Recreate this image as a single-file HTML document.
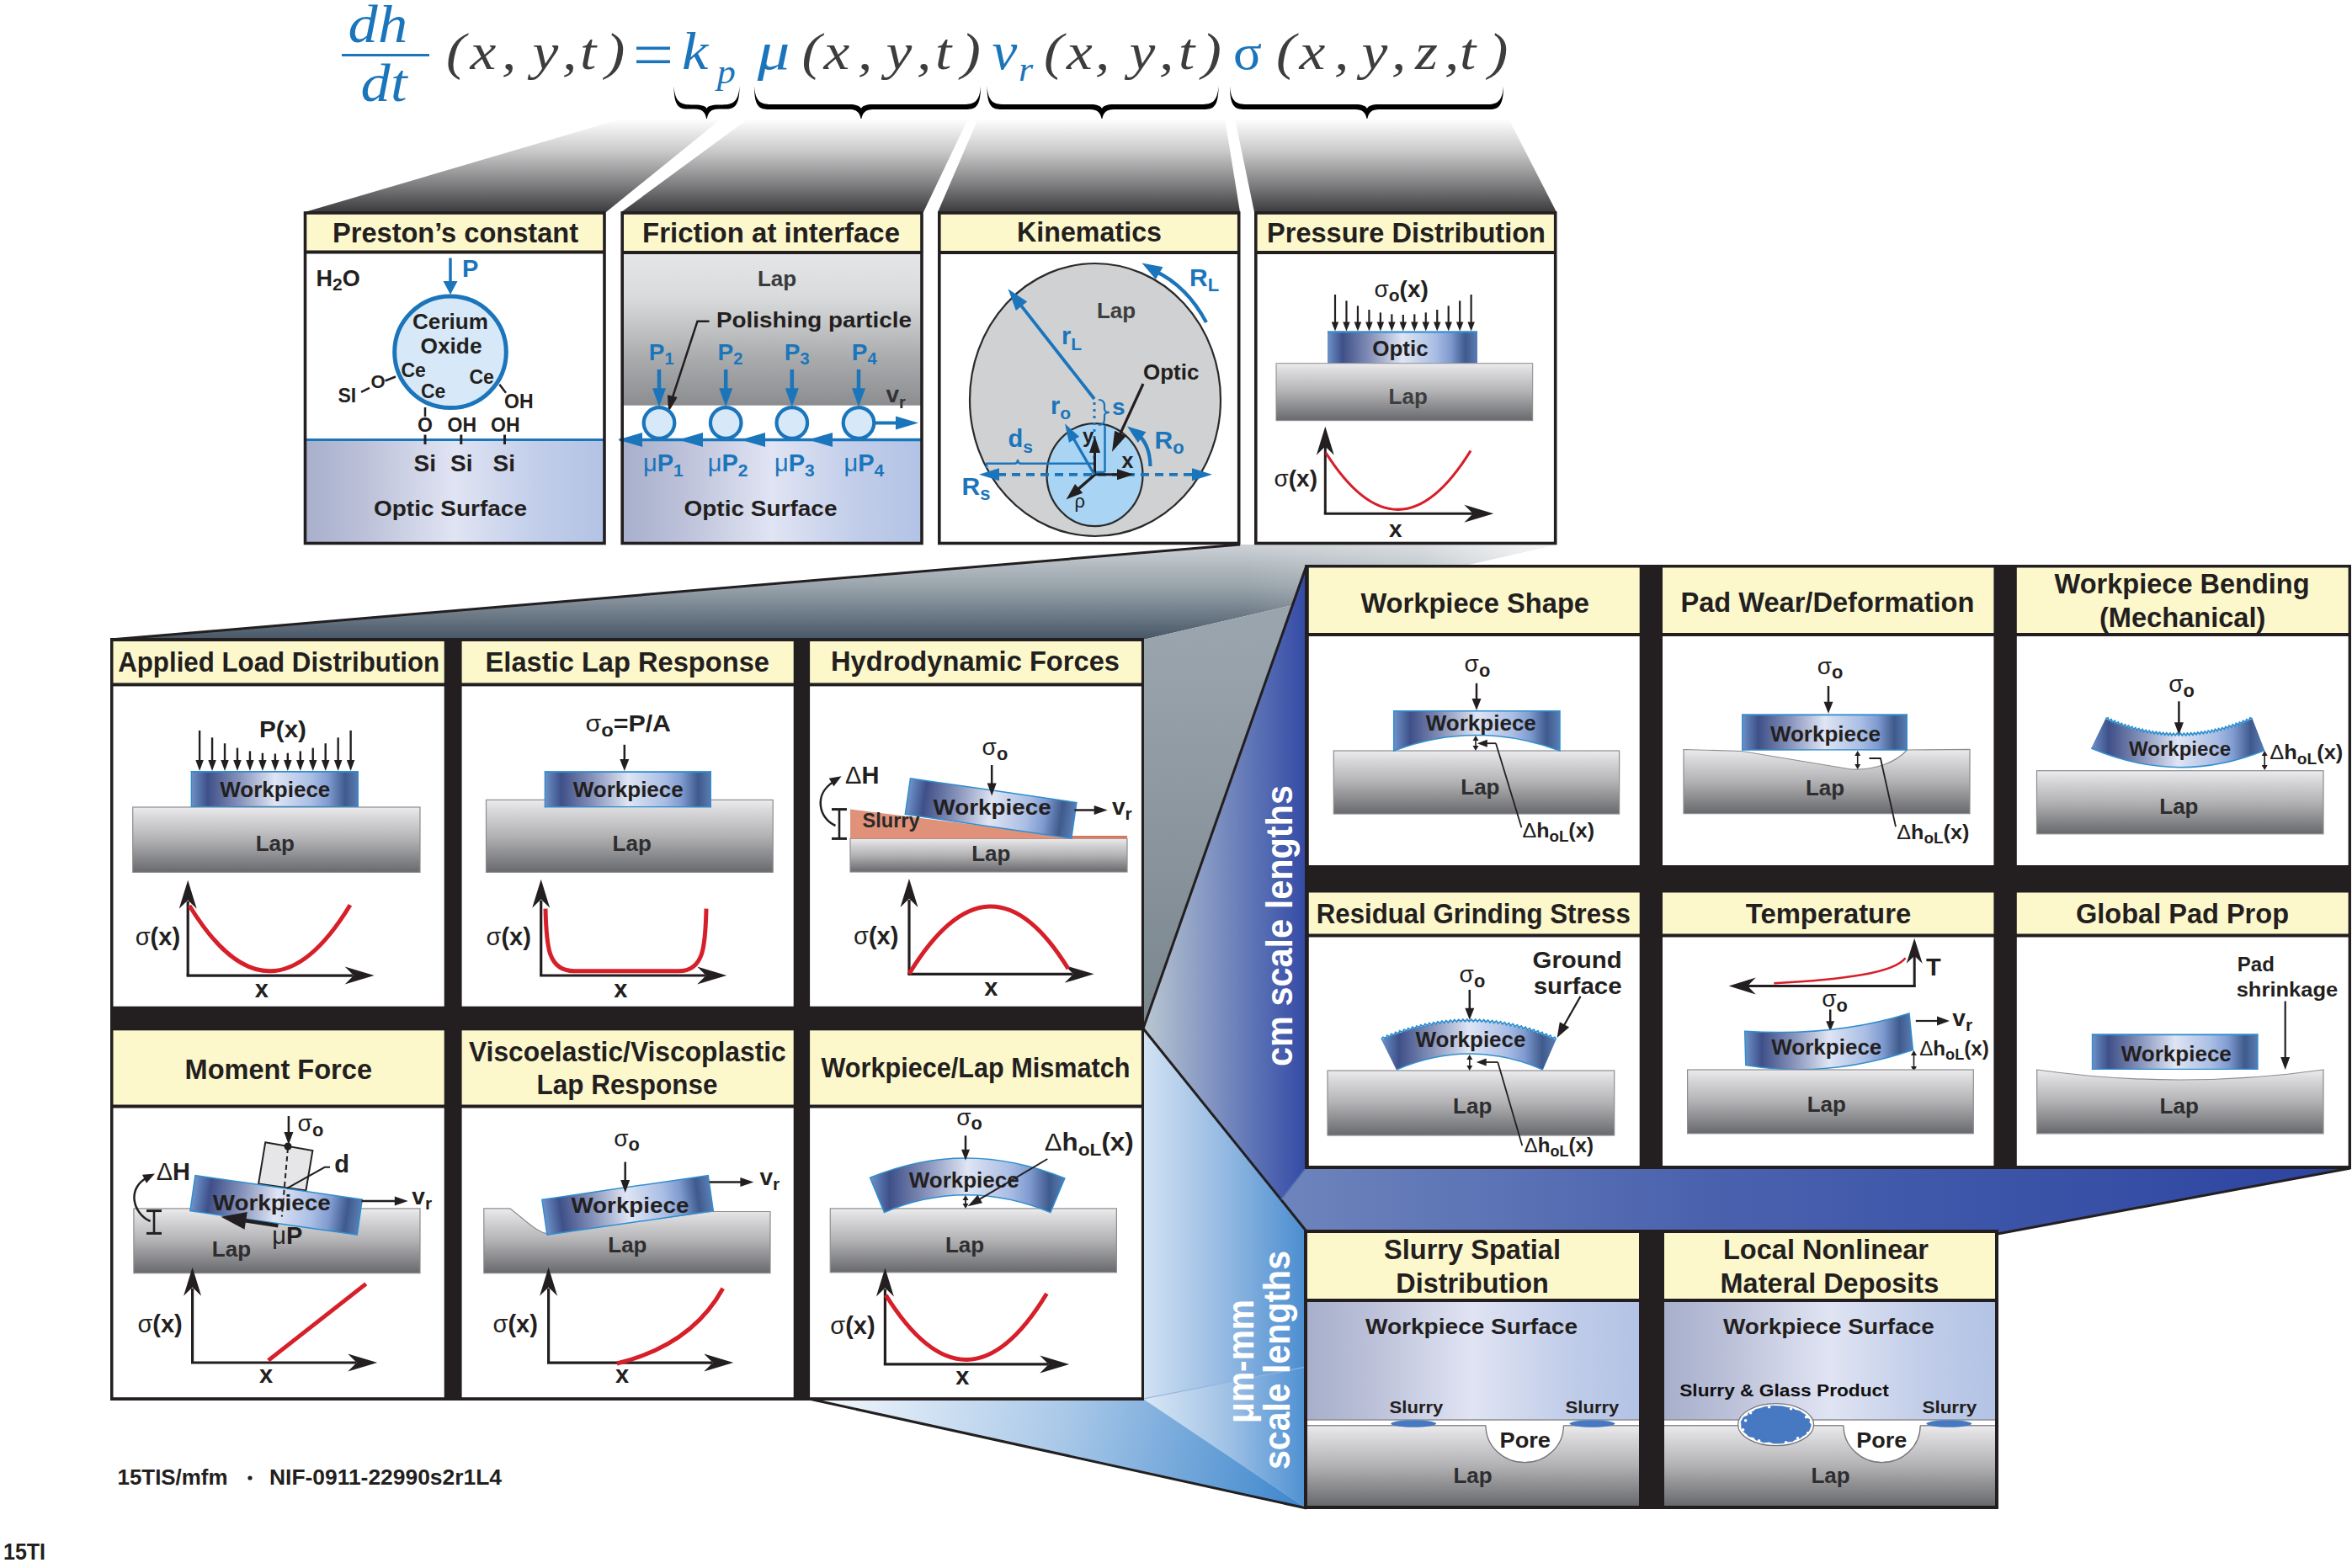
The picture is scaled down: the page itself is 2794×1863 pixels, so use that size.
<!DOCTYPE html>
<html><head><meta charset="utf-8"><style>
html,body{margin:0;padding:0;background:#fff;}
svg{display:block;}
</style></head><body>
<svg width="2794" height="1863" viewBox="0 0 2794 1863" font-family="Liberation Sans, sans-serif">
<defs><linearGradient id="lap" x1="0" y1="0" x2="0" y2="1"><stop offset="0" stop-color="#ececee"/><stop offset="0.12" stop-color="#dcdcde"/><stop offset="0.5" stop-color="#b2b2b5"/><stop offset="1" stop-color="#68696c"/></linearGradient><linearGradient id="wp" x1="0" y1="0" x2="1" y2="0"><stop offset="0" stop-color="#7192c8"/><stop offset="0.04" stop-color="#5a78b0"/><stop offset="0.1" stop-color="#3f5089"/><stop offset="0.3" stop-color="#8a96bd"/><stop offset="0.5" stop-color="#dfe5f4"/><stop offset="0.72" stop-color="#a9bde4"/><stop offset="0.82" stop-color="#7f9bd0"/><stop offset="0.92" stop-color="#3f5a8c"/><stop offset="1" stop-color="#5a7db4"/></linearGradient><linearGradient id="optsurf" x1="0" y1="0" x2="1" y2="0"><stop offset="0" stop-color="#a7afcb"/><stop offset="0.2" stop-color="#bcc1d9"/><stop offset="0.5" stop-color="#e0e4f3"/><stop offset="0.78" stop-color="#c1cde9"/><stop offset="1" stop-color="#b3c3e5"/></linearGradient><linearGradient id="fric" x1="0" y1="0" x2="0" y2="1"><stop offset="0" stop-color="#e5e6e8"/><stop offset="0.3" stop-color="#d9dadc"/><stop offset="0.7" stop-color="#a9aaac"/><stop offset="1" stop-color="#8c8d90"/></linearGradient><linearGradient id="proj" x1="0" y1="0" x2="0" y2="1"><stop offset="0" stop-color="#ffffff"/><stop offset="0.35" stop-color="#c9c9ca"/><stop offset="0.7" stop-color="#808082"/><stop offset="1" stop-color="#3b3b3d"/></linearGradient><linearGradient id="slate" x1="0" y1="647" x2="0" y2="760" gradientUnits="userSpaceOnUse"><stop offset="0" stop-color="#cdd2d6"/><stop offset="0.45" stop-color="#97a2aa"/><stop offset="1" stop-color="#475666"/></linearGradient><linearGradient id="slatefade" x1="1480" y1="0" x2="1850" y2="0" gradientUnits="userSpaceOnUse"><stop offset="0" stop-color="#ffffff" stop-opacity="0"/><stop offset="0.55" stop-color="#ffffff" stop-opacity="0.25"/><stop offset="1" stop-color="#ffffff" stop-opacity="0.85"/></linearGradient><linearGradient id="side" x1="0" y1="760" x2="0" y2="1222" gradientUnits="userSpaceOnUse"><stop offset="0" stop-color="#9aa4ac"/><stop offset="1" stop-color="#7a868e"/></linearGradient><linearGradient id="cmface" x1="1360" y1="0" x2="1552" y2="0" gradientUnits="userSpaceOnUse"><stop offset="0" stop-color="#b9c6d0"/><stop offset="0.35" stop-color="#8a9cc4"/><stop offset="0.7" stop-color="#5a70b4"/><stop offset="1" stop-color="#334aa6"/></linearGradient><linearGradient id="cmband" x1="1520" y1="0" x2="2790" y2="0" gradientUnits="userSpaceOnUse"><stop offset="0" stop-color="#6e84bc"/><stop offset="0.4" stop-color="#4a62ae"/><stop offset="1" stop-color="#2c44a0"/></linearGradient><linearGradient id="umB1" x1="1358" y1="0" x2="1552" y2="0" gradientUnits="userSpaceOnUse"><stop offset="0" stop-color="#d2e2f3"/><stop offset="0.5" stop-color="#94b9e2"/><stop offset="1" stop-color="#4a8dd0"/></linearGradient><linearGradient id="umB2" x1="1358" y1="0" x2="1552" y2="0" gradientUnits="userSpaceOnUse"><stop offset="0" stop-color="#dbe8f5"/><stop offset="0.5" stop-color="#a2c3e6"/><stop offset="1" stop-color="#4d90d2"/></linearGradient><linearGradient id="umA" x1="961" y1="1662" x2="1552" y2="1792" gradientUnits="userSpaceOnUse"><stop offset="0" stop-color="#f6f9fd"/><stop offset="0.5" stop-color="#a9c8e8"/><stop offset="1" stop-color="#3b85cc"/></linearGradient></defs>
<rect x="0" y="0" width="2794" height="1863" fill="#ffffff"/>
<text transform="translate(413.5 50) scale(1.1 1)" font-size="64" font-family="Liberation Serif" font-style="italic" fill="#1b75bb">d</text>
<text transform="translate(449 50) scale(1.1 1)" font-size="64" font-family="Liberation Serif" font-style="italic" fill="#1b75bb">h</text>
<rect x="406" y="64" width="104" height="3" fill="#1b75bb"/>
<text transform="translate(428.5 120) scale(1.1 1)" font-size="64" font-family="Liberation Serif" font-style="italic" fill="#1b75bb">d</text>
<text transform="translate(464 120) scale(1.1 1)" font-size="64" font-family="Liberation Serif" font-style="italic" fill="#1b75bb">t</text>
<text transform="translate(530 81.5) scale(1.12 1)" font-size="62" font-family="Liberation Serif" font-style="italic" fill="#3d3d3f">(</text>
<text transform="translate(558.59 81.5) scale(1.12 1)" font-size="62" font-family="Liberation Serif" font-style="italic" fill="#3d3d3f">x</text>
<text transform="translate(596 81.5) scale(1.12 1)" font-size="62" font-family="Liberation Serif" font-style="italic" fill="#3d3d3f">,</text>
<text transform="translate(632.51 81.5) scale(1.12 1)" font-size="62" font-family="Liberation Serif" font-style="italic" fill="#3d3d3f">y</text>
<text transform="translate(668 81.5) scale(1.12 1)" font-size="62" font-family="Liberation Serif" font-style="italic" fill="#3d3d3f">,</text>
<text transform="translate(689 81.5) scale(1.12 1)" font-size="62" font-family="Liberation Serif" font-style="italic" fill="#3d3d3f">t</text>
<text transform="translate(719.34 81.5) scale(1.12 1)" font-size="62" font-family="Liberation Serif" font-style="italic" fill="#3d3d3f">)</text>
<rect x="756" y="55.5" width="40" height="3.6" fill="#1b75bb"/>
<rect x="756" y="71.5" width="40" height="3.6" fill="#1b75bb"/>
<text transform="translate(810 81.5) scale(1.1 1)" font-size="64" font-family="Liberation Serif" font-style="italic" fill="#1b75bb">k</text>
<text transform="translate(851.75 99) scale(1.1 1)" font-size="40" font-family="Liberation Serif" font-style="italic" fill="#1b75bb">p</text>
<text transform="translate(899.7 81.5) scale(1.2 1)" font-size="64" font-family="Liberation Serif" font-style="italic" fill="#1b75bb">μ</text>
<text transform="translate(952.5 81.5) scale(1.12 1)" font-size="62" font-family="Liberation Serif" font-style="italic" fill="#3d3d3f">(</text>
<text transform="translate(978.59 81.5) scale(1.12 1)" font-size="62" font-family="Liberation Serif" font-style="italic" fill="#3d3d3f">x</text>
<text transform="translate(1019 81.5) scale(1.12 1)" font-size="62" font-family="Liberation Serif" font-style="italic" fill="#3d3d3f">,</text>
<text transform="translate(1052.51 81.5) scale(1.12 1)" font-size="62" font-family="Liberation Serif" font-style="italic" fill="#3d3d3f">y</text>
<text transform="translate(1089 81.5) scale(1.12 1)" font-size="62" font-family="Liberation Serif" font-style="italic" fill="#3d3d3f">,</text>
<text transform="translate(1111 81.5) scale(1.12 1)" font-size="62" font-family="Liberation Serif" font-style="italic" fill="#3d3d3f">t</text>
<text transform="translate(1141.84 81.5) scale(1.12 1)" font-size="62" font-family="Liberation Serif" font-style="italic" fill="#3d3d3f">)</text>
<text transform="translate(1178.5 81.5) scale(1.05 1)" font-size="64" font-family="Liberation Serif" font-style="italic" fill="#1b75bb">v</text>
<text transform="translate(1210 96) scale(1.1 1)" font-size="40" font-family="Liberation Serif" font-style="italic" fill="#1b75bb">r</text>
<text transform="translate(1240 81.5) scale(1.12 1)" font-size="62" font-family="Liberation Serif" font-style="italic" fill="#3d3d3f">(</text>
<text transform="translate(1267.09 81.5) scale(1.12 1)" font-size="62" font-family="Liberation Serif" font-style="italic" fill="#3d3d3f">x</text>
<text transform="translate(1301 81.5) scale(1.12 1)" font-size="62" font-family="Liberation Serif" font-style="italic" fill="#3d3d3f">,</text>
<text transform="translate(1341.51 81.5) scale(1.12 1)" font-size="62" font-family="Liberation Serif" font-style="italic" fill="#3d3d3f">y</text>
<text transform="translate(1377 81.5) scale(1.12 1)" font-size="62" font-family="Liberation Serif" font-style="italic" fill="#3d3d3f">,</text>
<text transform="translate(1400 81.5) scale(1.12 1)" font-size="62" font-family="Liberation Serif" font-style="italic" fill="#3d3d3f">t</text>
<text transform="translate(1427.84 81.5) scale(1.12 1)" font-size="62" font-family="Liberation Serif" font-style="italic" fill="#3d3d3f">)</text>
<text transform="translate(1465 81.5) scale(1.05 1)" font-size="60" font-family="Liberation Serif" fill="#1b75bb">σ</text>
<text transform="translate(1516 81.5) scale(1.12 1)" font-size="62" font-family="Liberation Serif" font-style="italic" fill="#3d3d3f">(</text>
<text transform="translate(1543.59 81.5) scale(1.12 1)" font-size="62" font-family="Liberation Serif" font-style="italic" fill="#3d3d3f">x</text>
<text transform="translate(1585 81.5) scale(1.12 1)" font-size="62" font-family="Liberation Serif" font-style="italic" fill="#3d3d3f">,</text>
<text transform="translate(1617.51 81.5) scale(1.12 1)" font-size="62" font-family="Liberation Serif" font-style="italic" fill="#3d3d3f">y</text>
<text transform="translate(1653 81.5) scale(1.12 1)" font-size="62" font-family="Liberation Serif" font-style="italic" fill="#3d3d3f">,</text>
<text transform="translate(1681.09 81.5) scale(1.12 1)" font-size="62" font-family="Liberation Serif" font-style="italic" fill="#3d3d3f">z</text>
<text transform="translate(1716 81.5) scale(1.12 1)" font-size="62" font-family="Liberation Serif" font-style="italic" fill="#3d3d3f">,</text>
<text transform="translate(1734 81.5) scale(1.12 1)" font-size="62" font-family="Liberation Serif" font-style="italic" fill="#3d3d3f">t</text>
<text transform="translate(1768.34 81.5) scale(1.12 1)" font-size="62" font-family="Liberation Serif" font-style="italic" fill="#3d3d3f">)</text>
<path d="M800.5 102 C800.5 129.6 808.5 129.6 820.5 129.6 L825.5 129.6 C833.5 129.6 838.5 132.6 839.5 144 C840.5 132.6 845.5 129.6 853.5 129.6 L858.5 129.6 C870.5 129.6 878.5 129.6 878.5 102 C877.3 121 870.5 124.4 858.5 124.4 L853.5 124.4 C845.5 124.4 840.5 126 839.5 129 C838.5 126 833.5 124.4 825.5 124.4 L820.5 124.4 C808.5 124.4 801.7 121 800.5 102 Z" fill="#000000"/>
<path d="M896 102 C896 130 904 130 916 130 L1009 130 C1017 130 1022 133 1023 144 C1024 133 1029 130 1037 130 L1145 130 C1157 130 1165 130 1165 102 C1163.8 121 1157 124 1145 124 L1037 124 C1029 124 1024 126 1023 129 C1022 126 1017 124 1009 124 L916 124 C904 124 897.2 121 896 102 Z" fill="#000000"/>
<path d="M1172.5 102 C1172.5 130 1180.5 130 1192.5 130 L1295 130 C1303 130 1308 133 1309 144 C1310 133 1315 130 1323 130 L1427.5 130 C1439.5 130 1447.5 130 1447.5 102 C1446.3 121 1439.5 124 1427.5 124 L1323 124 C1315 124 1310 126 1309 129 C1308 126 1303 124 1295 124 L1192.5 124 C1180.5 124 1173.7 121 1172.5 102 Z" fill="#000000"/>
<path d="M1461 102 C1461 130 1469 130 1481 130 L1610 130 C1618 130 1623 133 1624 144 C1625 133 1630 130 1638 130 L1766 130 C1778 130 1786 130 1786 102 C1784.8 121 1778 124 1766 124 L1638 124 C1630 124 1625 126 1624 129 C1623 126 1618 124 1610 124 L1481 124 C1469 124 1462.2 121 1461 102 Z" fill="#000000"/>
<polygon points="362,252 739,141 857,141 720,252" fill="url(#proj)"/>
<polygon points="738,252 889,141 1150,141 1097,252" fill="url(#proj)"/>
<polygon points="1114,252 1162,141 1455,141 1473,252" fill="url(#proj)"/>
<polygon points="1490,252 1467,141 1792,141 1849,252" fill="url(#proj)"/>
<polygon points="131,760 1473,647 1848,647 1358,760" fill="url(#slate)"/>
<polygon points="131,760 1473,647 1848,647 1358,760" fill="url(#slatefade)"/>
<polygon points="1358,760 1540,718 1552,672 1552,1387 1358,1222" fill="url(#side)"/>
<polygon points="1552,672 1552,1387 1522,1425 1358,1222" fill="url(#cmface)"/>
<polygon points="1552,1387 2792,1387 2373,1466 1552,1463 1522,1425" fill="url(#cmband)"/>
<polygon points="1358,1222 1552,1463 1552,1624 1358,1662" fill="url(#umB1)"/>
<polygon points="1358,1662 1552,1624 1552,1792" fill="url(#umB2)"/>
<polygon points="961,1662 1358,1662 1552,1792" fill="url(#umA)"/>
<line x1="1358" y1="1662" x2="1552" y2="1624" stroke="#8fb3da" stroke-width="1.2"/>
<line x1="131" y1="760" x2="1473" y2="647" stroke="#231f20" stroke-width="3"/>
<line x1="1552" y1="672" x2="1358" y2="1222" stroke="#231f20" stroke-width="3"/>
<line x1="1358" y1="1222" x2="1552" y2="1463" stroke="#231f20" stroke-width="3"/>
<line x1="961" y1="1662" x2="1552" y2="1792" stroke="#231f20" stroke-width="3"/>
<line x1="2373" y1="1466" x2="2792" y2="1388" stroke="#231f20" stroke-width="3"/>
<line x1="1552" y1="1387" x2="1522" y2="1425" stroke="#5570b0" stroke-width="1.5"/>
<text x="1535" y="1267" font-size="45" fill="#ffffff" font-weight="bold" textLength="334" lengthAdjust="spacingAndGlyphs" transform="rotate(-90 1535 1267)">cm scale lengths</text>
<text x="1489" y="1691" font-size="45" fill="#ffffff" font-weight="bold" textLength="147" lengthAdjust="spacingAndGlyphs" transform="rotate(-90 1489 1691)">μm-mm</text>
<text x="1532" y="1746" font-size="45" fill="#ffffff" font-weight="bold" textLength="260" lengthAdjust="spacingAndGlyphs" transform="rotate(-90 1532 1746)">scale lengths</text>
<rect x="362.5" y="253" width="355.5" height="392.5" fill="#ffffff"/>
<rect x="362.5" y="253" width="355.5" height="46.5" fill="#fdf8cc"/>
<rect x="362.5" y="522.5" width="355.5" height="123" fill="url(#optsurf)"/>
<line x1="362.5" y1="522.5" x2="718" y2="522.5" stroke="#1b75bb" stroke-width="3"/>
<text x="395" y="287.5" font-size="33" fill="#231f20" font-weight="bold" textLength="292" lengthAdjust="spacingAndGlyphs">Preston’s constant</text>
<text x="375.5" y="340" font-size="27" fill="#231f20" font-weight="bold">H<tspan font-size="21" dy="5">2</tspan><tspan dy="-5">O</tspan></text>
<line x1="535" y1="306.5" x2="535" y2="338.8" stroke="#1b75bb" stroke-width="3.5"/>
<polygon points="535,350 526.5,334 543.5,334" fill="#1b75bb"/>
<text x="549" y="329" font-size="29" fill="#1b75bb" font-weight="bold">P</text>
<circle cx="535" cy="418.3" r="66.3" fill="#d7e9f8" stroke="#1b75bb" stroke-width="5"/>
<text x="535" y="390.8" font-size="25" fill="#231f20" text-anchor="middle" font-weight="bold" textLength="90" lengthAdjust="spacingAndGlyphs">Cerium</text>
<text x="536" y="420" font-size="25" fill="#231f20" text-anchor="middle" font-weight="bold" textLength="73" lengthAdjust="spacingAndGlyphs">Oxide</text>
<text x="476.5" y="448.3" font-size="23" fill="#231f20" font-weight="bold">Ce</text>
<text x="500" y="473" font-size="23" fill="#231f20" font-weight="bold">Ce</text>
<text x="557.5" y="455.8" font-size="23" fill="#231f20" font-weight="bold">Ce</text>
<text x="401.5" y="477.5" font-size="23" fill="#231f20" font-weight="bold">SI</text>
<text x="440.5" y="460.8" font-size="22" fill="#231f20" font-weight="bold">O</text>
<line x1="429" y1="465.8" x2="439" y2="460.8" stroke="#231f20" stroke-width="2.5"/>
<line x1="457.5" y1="452.5" x2="470" y2="447.5" stroke="#231f20" stroke-width="2.5"/>
<line x1="593.3" y1="456.7" x2="601" y2="466.7" stroke="#231f20" stroke-width="2.5"/>
<text x="599" y="485" font-size="23" fill="#231f20" font-weight="bold">OH</text>
<line x1="505" y1="484" x2="505" y2="495" stroke="#231f20" stroke-width="2.5"/>
<text x="505" y="512.5" font-size="23" fill="#231f20" text-anchor="middle" font-weight="bold">O</text>
<text x="531.5" y="512.5" font-size="23" fill="#231f20" font-weight="bold">OH</text>
<text x="583" y="512.5" font-size="23" fill="#231f20" font-weight="bold">OH</text>
<line x1="505" y1="516.5" x2="505" y2="528" stroke="#231f20" stroke-width="3"/>
<line x1="547.8" y1="516.5" x2="547.8" y2="528" stroke="#231f20" stroke-width="3"/>
<line x1="599.5" y1="516.5" x2="599.5" y2="528" stroke="#231f20" stroke-width="3"/>
<text x="491.5" y="560" font-size="28" fill="#231f20" font-weight="bold">Si</text>
<text x="535" y="560" font-size="28" fill="#231f20" font-weight="bold">Si</text>
<text x="585.5" y="560" font-size="28" fill="#231f20" font-weight="bold">Si</text>
<text x="444" y="612.5" font-size="25" fill="#231f20" font-weight="bold" textLength="182" lengthAdjust="spacingAndGlyphs">Optic Surface</text>
<rect x="362.5" y="253" width="355.5" height="392.5" fill="none" stroke="#231f20" stroke-width="3.6"/>
<line x1="362.5" y1="299.5" x2="718" y2="299.5" stroke="#231f20" stroke-width="4"/>
<rect x="739.2" y="253" width="355.8" height="392.5" fill="#ffffff"/>
<rect x="739.2" y="253" width="355.8" height="47" fill="#fdf8cc"/>
<rect x="739.2" y="300" width="355.8" height="181.7" fill="url(#fric)"/>
<rect x="739.2" y="522.5" width="355.8" height="123" fill="url(#optsurf)"/>
<text x="763" y="287.5" font-size="33" fill="#231f20" font-weight="bold" textLength="306" lengthAdjust="spacingAndGlyphs">Friction at interface</text>
<text x="923" y="340" font-size="26" fill="#3a3a3c" text-anchor="middle" font-weight="bold">Lap</text>
<text x="851" y="389" font-size="26" fill="#231f20" font-weight="bold" textLength="232" lengthAdjust="spacingAndGlyphs">Polishing particle</text>
<path d="M842.5,381.7 L828.5,381.7 L797,478" fill="none" stroke="#231f20" stroke-width="2.5"/>
<polygon points="794,490 793.03,469.14 804.67,472.05" fill="#231f20"/>
<text x="770.8" y="427.5" font-size="28" fill="#1b75bb" font-weight="bold">P<tspan font-size="20" dy="5">1</tspan></text>
<line x1="783" y1="439" x2="783" y2="467.9" stroke="#1b75bb" stroke-width="4.5"/>
<polygon points="783,483.3 775,461.3 791,461.3" fill="#1b75bb"/>
<circle cx="783" cy="502.5" r="18.3" fill="#d7e9f8" stroke="#1b75bb" stroke-width="4.2"/>
<text x="852.5" y="427.5" font-size="28" fill="#1b75bb" font-weight="bold">P<tspan font-size="20" dy="5">2</tspan></text>
<line x1="862.2" y1="439" x2="862.2" y2="467.9" stroke="#1b75bb" stroke-width="4.5"/>
<polygon points="862.2,483.3 854.2,461.3 870.2,461.3" fill="#1b75bb"/>
<circle cx="862.2" cy="502.5" r="18.3" fill="#d7e9f8" stroke="#1b75bb" stroke-width="4.2"/>
<text x="931.7" y="427.5" font-size="28" fill="#1b75bb" font-weight="bold">P<tspan font-size="20" dy="5">3</tspan></text>
<line x1="940.8" y1="439" x2="940.8" y2="467.9" stroke="#1b75bb" stroke-width="4.5"/>
<polygon points="940.8,483.3 932.8,461.3 948.8,461.3" fill="#1b75bb"/>
<circle cx="940.8" cy="502.5" r="18.3" fill="#d7e9f8" stroke="#1b75bb" stroke-width="4.2"/>
<text x="1011.7" y="427.5" font-size="28" fill="#1b75bb" font-weight="bold">P<tspan font-size="20" dy="5">4</tspan></text>
<line x1="1020" y1="439" x2="1020" y2="467.9" stroke="#1b75bb" stroke-width="4.5"/>
<polygon points="1020,483.3 1012,461.3 1028,461.3" fill="#1b75bb"/>
<circle cx="1020" cy="502.5" r="18.3" fill="#d7e9f8" stroke="#1b75bb" stroke-width="4.2"/>
<line x1="736" y1="522.5" x2="1095" y2="522.5" stroke="#1b75bb" stroke-width="3.5"/>
<polygon points="734,522.5 763,514 763,531" fill="#1b75bb"/>
<polygon points="806,522.5 835,514 835,531" fill="#1b75bb"/>
<polygon points="880,522.5 909,514 909,531" fill="#1b75bb"/>
<polygon points="960,522.5 989,514 989,531" fill="#1b75bb"/>
<line x1="1039" y1="502.5" x2="1072.1" y2="502.5" stroke="#1b75bb" stroke-width="4"/>
<polygon points="1091,502.5 1064,510.5 1064,494.5" fill="#1b75bb"/>
<text x="1052.5" y="478.3" font-size="28" fill="#333333" font-weight="bold">v<tspan font-size="20" dy="7">r</tspan></text>
<text x="764" y="560" font-size="29" fill="#1b75bb" font-weight="bold"><tspan font-weight="normal">μ</tspan>P<tspan font-size="21" dy="6">1</tspan></text>
<text x="840.8" y="560" font-size="29" fill="#1b75bb" font-weight="bold"><tspan font-weight="normal">μ</tspan>P<tspan font-size="21" dy="6">2</tspan></text>
<text x="920" y="560" font-size="29" fill="#1b75bb" font-weight="bold"><tspan font-weight="normal">μ</tspan>P<tspan font-size="21" dy="6">3</tspan></text>
<text x="1002.5" y="560" font-size="29" fill="#1b75bb" font-weight="bold"><tspan font-weight="normal">μ</tspan>P<tspan font-size="21" dy="6">4</tspan></text>
<text x="812.5" y="612.5" font-size="25" fill="#231f20" font-weight="bold" textLength="182" lengthAdjust="spacingAndGlyphs">Optic Surface</text>
<rect x="739.2" y="253" width="355.8" height="392.5" fill="none" stroke="#231f20" stroke-width="3.6"/>
<line x1="739.2" y1="300" x2="1095" y2="300" stroke="#231f20" stroke-width="4"/>
<rect x="1115.8" y="253" width="355.9" height="392.5" fill="#ffffff"/>
<rect x="1115.8" y="253" width="355.9" height="47" fill="#fdf8cc"/>
<text x="1208" y="286.7" font-size="33" fill="#231f20" font-weight="bold" textLength="172" lengthAdjust="spacingAndGlyphs">Kinematics</text>
<ellipse cx="1301" cy="475" rx="149" ry="162" fill="#d0d1d3" stroke="#2a2a2a" stroke-width="2.2"/>
<text x="1326" y="378.3" font-size="26" fill="#3d3d3f" text-anchor="middle" font-weight="bold">Lap</text>
<ellipse cx="1300.5" cy="564.2" rx="57" ry="61" fill="#a9d4f3" stroke="#2a2a2a" stroke-width="2.2"/>
<line x1="1300" y1="474" x2="1208.73" y2="357.62" stroke="#1b75bb" stroke-width="3.8"/>
<polygon points="1197.5,343.3 1220.23,358.51 1206.86,369" fill="#1b75bb"/>
<text x="1261" y="409" font-size="29" fill="#1b75bb" font-weight="bold">r<tspan font-size="21" dy="7">L</tspan></text>
<path d="M1433,383 Q1410,340 1372,322" fill="none" stroke="#1b75bb" stroke-width="4.2"/>
<polygon points="1356.5,312.5 1381.5,317.34 1372.88,331.99" fill="#1b75bb"/>
<text x="1413" y="340" font-size="30" fill="#1b75bb" font-weight="bold">R<tspan font-size="22" dy="6">L</tspan></text>
<text x="1358" y="450.8" font-size="26" fill="#231f20" font-weight="bold">Optic</text>
<line x1="1358" y1="456" x2="1328" y2="521.43" stroke="#231f20" stroke-width="3.2"/>
<polygon points="1321,536.7 1324.18,511.76 1337.82,518.01" fill="#231f20"/>
<text x="1248" y="491.7" font-size="29" fill="#1b75bb" font-weight="bold">r<tspan font-size="21" dy="6">o</tspan></text>
<line x1="1300" y1="478" x2="1300" y2="560" stroke="#1b75bb" stroke-width="3" stroke-dasharray="3,5"/>
<path d="M1305,475 Q1312,475 1312,482 L1312,486 Q1312,490 1318,490 Q1312,490 1312,494 L1312,498 Q1312,505 1305,505" fill="none" stroke="#1b75bb" stroke-width="2.2"/>
<text x="1321" y="493" font-size="28" fill="#1b75bb" font-weight="bold">s</text>
<line x1="1312.5" y1="505" x2="1312.5" y2="561" stroke="#1b75bb" stroke-width="2.5"/>
<line x1="1312.5" y1="561" x2="1300" y2="561" stroke="#1b75bb" stroke-width="2.5"/>
<line x1="1185" y1="563.8" x2="1420" y2="563.8" stroke="#1b75bb" stroke-width="3.8" stroke-dasharray="10,7"/>
<polygon points="1163,563.8 1187,556.3 1187,571.3" fill="#1b75bb"/>
<polygon points="1440,563.8 1416,571.3 1416,556.3" fill="#1b75bb"/>
<line x1="1300.8" y1="563.8" x2="1333" y2="563.8" stroke="#231f20" stroke-width="3"/>
<polygon points="1347,563.8 1327,570.3 1327,557.3" fill="#231f20"/>
<text x="1332.5" y="555.8" font-size="25" fill="#231f20" font-weight="bold">x</text>
<line x1="1300.5" y1="563.8" x2="1300.5" y2="532" stroke="#231f20" stroke-width="3"/>
<polygon points="1300.5,518 1307,538 1294,538" fill="#231f20"/>
<text x="1286" y="525.8" font-size="24" fill="#231f20" font-weight="bold">y</text>
<line x1="1300.8" y1="563.8" x2="1277.08" y2="584.34" stroke="#231f20" stroke-width="3.4"/>
<polygon points="1266.5,593.5 1277.04,575.12 1286.2,585.7" fill="#231f20"/>
<text x="1276.5" y="602.5" font-size="22" fill="#231f20">ρ</text>
<line x1="1300" y1="563.8" x2="1272.71" y2="516.63" stroke="#1b75bb" stroke-width="3.2"/>
<polygon points="1265,503.3 1282.08,518.84 1269.96,525.85" fill="#1b75bb"/>
<path d="M1172,556 L1172,550.8 L1205,550.8 Q1209,550.8 1209,546 Q1209,550.8 1213,550.8 L1299,550.8" fill="none" stroke="#1b75bb" stroke-width="2.4"/>
<text x="1197.5" y="530.8" font-size="29" fill="#1b75bb" font-weight="bold">d<tspan font-size="21" dy="7">s</tspan></text>
<text x="1142.5" y="588.3" font-size="30" fill="#1b75bb" font-weight="bold">R<tspan font-size="22" dy="6">s</tspan></text>
<path d="M1366.5,554 Q1366,526 1349,514" fill="none" stroke="#1b75bb" stroke-width="4.2"/>
<polygon points="1339,506.5 1361.4,513.3 1351.8,526.1" fill="#1b75bb"/>
<text x="1371.5" y="532.5" font-size="30" fill="#1b75bb" font-weight="bold">R<tspan font-size="22" dy="6">o</tspan></text>
<rect x="1115.8" y="253" width="355.9" height="392.5" fill="none" stroke="#231f20" stroke-width="3.6"/>
<line x1="1115.8" y1="300" x2="1471.7" y2="300" stroke="#231f20" stroke-width="4"/>
<rect x="1491.8" y="253" width="355.9" height="392.5" fill="#ffffff"/>
<rect x="1491.8" y="253" width="355.9" height="47" fill="#fdf8cc"/>
<text x="1505" y="287.5" font-size="33" fill="#231f20" font-weight="bold" textLength="331" lengthAdjust="spacingAndGlyphs">Pressure Distribution</text>
<text x="1632.5" y="353.3" font-size="28" fill="#231f20" font-weight="bold"><tspan font-weight="normal">σ</tspan><tspan font-size="21" dy="5">o</tspan><tspan dy="-5">(x)</tspan></text>
<line x1="1586" y1="350" x2="1586" y2="386" stroke="#231f20" stroke-width="2.2"/>
<polygon points="1586,393.5 1581.75,382.5 1590.25,382.5" fill="#231f20"/>
<line x1="1599.47" y1="357.33" x2="1599.47" y2="386" stroke="#231f20" stroke-width="2.2"/>
<polygon points="1599.47,393.5 1595.22,382.5 1603.72,382.5" fill="#231f20"/>
<line x1="1612.94" y1="363.33" x2="1612.94" y2="386" stroke="#231f20" stroke-width="2.2"/>
<polygon points="1612.94,393.5 1608.69,382.5 1617.19,382.5" fill="#231f20"/>
<line x1="1626.41" y1="368" x2="1626.41" y2="386" stroke="#231f20" stroke-width="2.2"/>
<polygon points="1626.41,393.5 1622.16,382.5 1630.66,382.5" fill="#231f20"/>
<line x1="1639.88" y1="371.33" x2="1639.88" y2="386" stroke="#231f20" stroke-width="2.2"/>
<polygon points="1639.88,393.5 1635.63,382.5 1644.13,382.5" fill="#231f20"/>
<line x1="1653.35" y1="373.33" x2="1653.35" y2="386" stroke="#231f20" stroke-width="2.2"/>
<polygon points="1653.35,393.5 1649.1,382.5 1657.6,382.5" fill="#231f20"/>
<line x1="1666.82" y1="374" x2="1666.82" y2="386" stroke="#231f20" stroke-width="2.2"/>
<polygon points="1666.82,393.5 1662.57,382.5 1671.07,382.5" fill="#231f20"/>
<line x1="1680.29" y1="373.33" x2="1680.29" y2="386" stroke="#231f20" stroke-width="2.2"/>
<polygon points="1680.29,393.5 1676.04,382.5 1684.54,382.5" fill="#231f20"/>
<line x1="1693.76" y1="371.33" x2="1693.76" y2="386" stroke="#231f20" stroke-width="2.2"/>
<polygon points="1693.76,393.5 1689.51,382.5 1698.01,382.5" fill="#231f20"/>
<line x1="1707.23" y1="368" x2="1707.23" y2="386" stroke="#231f20" stroke-width="2.2"/>
<polygon points="1707.23,393.5 1702.98,382.5 1711.48,382.5" fill="#231f20"/>
<line x1="1720.7" y1="363.33" x2="1720.7" y2="386" stroke="#231f20" stroke-width="2.2"/>
<polygon points="1720.7,393.5 1716.45,382.5 1724.95,382.5" fill="#231f20"/>
<line x1="1734.17" y1="357.33" x2="1734.17" y2="386" stroke="#231f20" stroke-width="2.2"/>
<polygon points="1734.17,393.5 1729.92,382.5 1738.42,382.5" fill="#231f20"/>
<line x1="1747.64" y1="350" x2="1747.64" y2="386" stroke="#231f20" stroke-width="2.2"/>
<polygon points="1747.64,393.5 1743.39,382.5 1751.89,382.5" fill="#231f20"/>
<rect x="1577" y="393.5" width="178" height="38.2" fill="url(#wp)"/>
<line x1="1577" y1="394.5" x2="1755" y2="394.5" stroke="#2f8fcf" stroke-width="2"/>
<text x="1663.5" y="423.3" font-size="26" fill="#231f20" text-anchor="middle" font-weight="bold">Optic</text>
<rect x="1516" y="431.7" width="304.7" height="68" fill="url(#lap)" stroke="#8a8a8c" stroke-width="1"/>
<text x="1672.7" y="480" font-size="26" fill="#3d3d3f" text-anchor="middle" font-weight="bold">Lap</text>
<line x1="1574.3" y1="610.3" x2="1574.3" y2="530" stroke="#231f20" stroke-width="3"/>
<line x1="1572.8" y1="610.3" x2="1750" y2="610.3" stroke="#231f20" stroke-width="3"/>
<polygon points="1574.3,506.7 1584.8,540.7 1574.3,530.5 1563.8,540.7" fill="#231f20"/>
<polygon points="1774.3,610.3 1739.3,620.8 1749.8,610.3 1739.3,599.8" fill="#231f20"/>
<path d="M1575,538 Q1661.5,674 1747,535.5" fill="none" stroke="#d71f2a" stroke-width="3.2"/>
<text x="1513.5" y="578.3" font-size="28" fill="#231f20" font-weight="bold"><tspan font-weight="normal">σ</tspan><tspan font-size="21" dy="0"></tspan><tspan dy="0">(x)</tspan></text>
<text x="1657.7" y="638.3" font-size="28" fill="#231f20" text-anchor="middle" font-weight="bold">x</text>
<rect x="1491.8" y="253" width="355.9" height="392.5" fill="none" stroke="#231f20" stroke-width="3.6"/>
<line x1="1491.8" y1="300" x2="1847.7" y2="300" stroke="#231f20" stroke-width="4"/>
<rect x="131" y="758" width="1228" height="906" fill="#231f20"/>
<rect x="134.5" y="762" width="393.2" height="49.4" fill="#fdf8cc"/>
<rect x="134.5" y="815.4" width="393.2" height="380.3" fill="#ffffff"/>
<rect x="134.5" y="1224.3" width="393.2" height="88.2" fill="#fdf8cc"/>
<rect x="134.5" y="1316.5" width="393.2" height="343.7" fill="#ffffff"/>
<rect x="548.6" y="762" width="394.1" height="49.4" fill="#fdf8cc"/>
<rect x="548.6" y="815.4" width="394.1" height="380.3" fill="#ffffff"/>
<rect x="548.6" y="1224.3" width="394.1" height="88.2" fill="#fdf8cc"/>
<rect x="548.6" y="1316.5" width="394.1" height="343.7" fill="#ffffff"/>
<rect x="962.1" y="762" width="393.8" height="49.4" fill="#fdf8cc"/>
<rect x="962.1" y="815.4" width="393.8" height="380.3" fill="#ffffff"/>
<rect x="962.1" y="1224.3" width="393.8" height="88.2" fill="#fdf8cc"/>
<rect x="962.1" y="1316.5" width="393.8" height="343.7" fill="#ffffff"/>
<text x="140.2" y="798.2" font-size="33" fill="#231f20" font-weight="bold" textLength="382" lengthAdjust="spacingAndGlyphs">Applied Load Distribution</text>
<text x="308" y="875.9" font-size="28" fill="#231f20" font-weight="bold" textLength="56" lengthAdjust="spacingAndGlyphs">P(x)</text>
<line x1="237.1" y1="867.9" x2="237.1" y2="905" stroke="#231f20" stroke-width="2.4"/>
<polygon points="237.1,916 232.35,903 241.85,903" fill="#231f20"/>
<line x1="252.06" y1="876.33" x2="252.06" y2="905" stroke="#231f20" stroke-width="2.4"/>
<polygon points="252.06,916 247.31,903 256.81,903" fill="#231f20"/>
<line x1="267.02" y1="883.23" x2="267.02" y2="905" stroke="#231f20" stroke-width="2.4"/>
<polygon points="267.02,916 262.27,903 271.77,903" fill="#231f20"/>
<line x1="281.98" y1="888.6" x2="281.98" y2="905" stroke="#231f20" stroke-width="2.4"/>
<polygon points="281.98,916 277.23,903 286.73,903" fill="#231f20"/>
<line x1="296.94" y1="892.43" x2="296.94" y2="905" stroke="#231f20" stroke-width="2.4"/>
<polygon points="296.94,916 292.19,903 301.69,903" fill="#231f20"/>
<line x1="311.9" y1="894.73" x2="311.9" y2="905" stroke="#231f20" stroke-width="2.4"/>
<polygon points="311.9,916 307.15,903 316.65,903" fill="#231f20"/>
<line x1="326.86" y1="895.5" x2="326.86" y2="905" stroke="#231f20" stroke-width="2.4"/>
<polygon points="326.86,916 322.11,903 331.61,903" fill="#231f20"/>
<line x1="341.82" y1="894.73" x2="341.82" y2="905" stroke="#231f20" stroke-width="2.4"/>
<polygon points="341.82,916 337.07,903 346.57,903" fill="#231f20"/>
<line x1="356.78" y1="892.43" x2="356.78" y2="905" stroke="#231f20" stroke-width="2.4"/>
<polygon points="356.78,916 352.03,903 361.53,903" fill="#231f20"/>
<line x1="371.74" y1="888.6" x2="371.74" y2="905" stroke="#231f20" stroke-width="2.4"/>
<polygon points="371.74,916 366.99,903 376.49,903" fill="#231f20"/>
<line x1="386.7" y1="883.23" x2="386.7" y2="905" stroke="#231f20" stroke-width="2.4"/>
<polygon points="386.7,916 381.95,903 391.45,903" fill="#231f20"/>
<line x1="401.66" y1="876.33" x2="401.66" y2="905" stroke="#231f20" stroke-width="2.4"/>
<polygon points="401.66,916 396.91,903 406.41,903" fill="#231f20"/>
<line x1="416.62" y1="867.9" x2="416.62" y2="905" stroke="#231f20" stroke-width="2.4"/>
<polygon points="416.62,916 411.87,903 421.37,903" fill="#231f20"/>
<rect x="157.7" y="959" width="341.3" height="77.4" fill="url(#lap)" stroke="#8d8d90" stroke-width="1.2"/>
<text x="326.8" y="1010.7" font-size="26" fill="#2e2e30" text-anchor="middle" font-weight="bold">Lap</text>
<rect x="226.8" y="916" width="199.1" height="43" fill="url(#wp)"/>
<line x1="226.8" y1="916.8" x2="425.9" y2="916.8" stroke="#2e8fcf" stroke-width="1.8"/>
<line x1="227.4" y1="916" x2="227.4" y2="959" stroke="#2e8fcf" stroke-width="1.2"/>
<line x1="425.3" y1="916" x2="425.3" y2="959" stroke="#2e8fcf" stroke-width="1.2"/>
<line x1="226.8" y1="958.4" x2="425.9" y2="958.4" stroke="#2e8fcf" stroke-width="1.2"/>
<text x="326.8" y="947.3" font-size="26" fill="#231f20" text-anchor="middle" font-weight="bold">Workpiece</text>
<line x1="223.2" y1="1159.1" x2="223.2" y2="1070.7" stroke="#231f20" stroke-width="3.2"/>
<line x1="221.6" y1="1159.1" x2="419.6" y2="1159.1" stroke="#231f20" stroke-width="3.2"/>
<polygon points="223.2,1045.7 233.7,1079.7 223.2,1069.5 212.7,1079.7" fill="#231f20"/>
<polygon points="444.6,1159.1 409.6,1169.6 420.1,1159.1 409.6,1148.6" fill="#231f20"/>
<path d="M225,1076 Q320.5,1232 416,1075.2" fill="none" stroke="#d71f2a" stroke-width="5"/>
<text x="160.7" y="1123.4" font-size="29" fill="#231f20" font-weight="bold"><tspan font-weight="normal">σ</tspan>(x)</text>
<text x="310.7" y="1185" font-size="29" fill="#231f20" text-anchor="middle" font-weight="bold">x</text>
<text x="576.6" y="798.2" font-size="33" fill="#231f20" font-weight="bold" textLength="337.4" lengthAdjust="spacingAndGlyphs">Elastic Lap Response</text>
<text x="695.4" y="868.75" font-size="28" fill="#231f20" font-weight="bold" textLength="101.6" lengthAdjust="spacingAndGlyphs"><tspan font-weight="normal">σ</tspan><tspan font-size="22" dy="6">o</tspan><tspan dy="-6">=P/A</tspan></text>
<line x1="741.8" y1="884.8" x2="741.8" y2="906.2" stroke="#231f20" stroke-width="2.5"/>
<polygon points="741.8,916 736.3,902 747.3,902" fill="#231f20"/>
<rect x="577.5" y="950.4" width="340.7" height="86" fill="url(#lap)" stroke="#8d8d90" stroke-width="1.2"/>
<text x="750.7" y="1010.7" font-size="26" fill="#2e2e30" text-anchor="middle" font-weight="bold">Lap</text>
<rect x="646.8" y="916.4" width="198.2" height="42.9" fill="url(#wp)"/>
<line x1="646.8" y1="917.2" x2="845" y2="917.2" stroke="#2e8fcf" stroke-width="1.8"/>
<line x1="647.4" y1="916.4" x2="647.4" y2="959.3" stroke="#2e8fcf" stroke-width="1.2"/>
<line x1="844.4" y1="916.4" x2="844.4" y2="959.3" stroke="#2e8fcf" stroke-width="1.2"/>
<line x1="646.8" y1="958.7" x2="845" y2="958.7" stroke="#2e8fcf" stroke-width="1.2"/>
<text x="746.25" y="947.3" font-size="26" fill="#231f20" text-anchor="middle" font-weight="bold">Workpiece</text>
<line x1="642.7" y1="1159" x2="642.7" y2="1069.8" stroke="#231f20" stroke-width="3.2"/>
<line x1="641.1" y1="1159" x2="838.2" y2="1159" stroke="#231f20" stroke-width="3.2"/>
<polygon points="642.7,1044.8 653.2,1078.8 642.7,1068.6 632.2,1078.8" fill="#231f20"/>
<polygon points="863.2,1159 828.2,1169.5 838.7,1159 828.2,1148.5" fill="#231f20"/>
<path d="M648,1079.6 C649,1125 651,1153.75 682,1153.75 L806,1153.75 C836,1153.75 838,1125 839,1079.6" fill="none" stroke="#d71f2a" stroke-width="5"/>
<text x="577.5" y="1123.4" font-size="29" fill="#231f20" font-weight="bold"><tspan font-weight="normal">σ</tspan>(x)</text>
<text x="737.3" y="1185" font-size="29" fill="#231f20" text-anchor="middle" font-weight="bold">x</text>
<text x="987" y="796.5" font-size="33" fill="#231f20" font-weight="bold" textLength="343" lengthAdjust="spacingAndGlyphs">Hydrodynamic Forces</text>
<rect x="1010" y="996.4" width="329" height="39.6" fill="url(#lap)" stroke="#8d8d90" stroke-width="1.2"/>
<text x="1177.3" y="1023" font-size="26" fill="#2e2e30" text-anchor="middle" font-weight="bold">Lap</text>
<polygon points="1010,961.6 1010,996.4 1339,996.4 1339,993 1262,993" fill="#e0917a"/>
<line x1="1262" y1="994.2" x2="1339" y2="994.2" stroke="#c96a50" stroke-width="1.5"/>
<g transform="translate(1177.1 960.5) rotate(8.25)">
<rect x="-99.75" y="-21.5" width="199.5" height="43" fill="url(#wp)" stroke="#2e8fcf" stroke-width="1.5"/>
</g>
<text x="1108.6" y="967.9" font-size="26" fill="#231f20" font-weight="bold" textLength="140" lengthAdjust="spacingAndGlyphs">Workpiece</text>
<text x="1024.6" y="982.5" font-size="24" fill="#2a2a2a" font-weight="bold" textLength="68" lengthAdjust="spacingAndGlyphs">Slurry</text>
<text x="1166.6" y="897.3" font-size="28" fill="#231f20" font-weight="bold"><tspan font-weight="normal">σ</tspan><tspan font-size="21.84" dy="5.6">o</tspan></text>
<line x1="1178.2" y1="909" x2="1178.2" y2="935" stroke="#231f20" stroke-width="2.5"/>
<polygon points="1178.2,945.5 1172.7,930.5 1183.7,930.5" fill="#231f20"/>
<line x1="1276.4" y1="962.5" x2="1304.5" y2="962.5" stroke="#231f20" stroke-width="2.5"/>
<polygon points="1315.7,962.5 1299.7,968 1299.7,957" fill="#231f20"/>
<text x="1321" y="967.9" font-size="28" fill="#231f20" font-weight="bold">v<tspan font-size="21" dy="6">r</tspan></text>
<text x="1004" y="931.25" font-size="29" fill="#231f20" font-weight="bold"><tspan font-weight="normal">Δ</tspan>H</text>
<path d="M992.5,981 C973,973 966,944 990,929" fill="none" stroke="#231f20" stroke-width="2.5"/>
<polygon points="999.6,922.3 990.42,934.22 984.77,924.79" fill="#231f20"/>
<line x1="997" y1="961.6" x2="997" y2="996.4" stroke="#231f20" stroke-width="2.6"/>
<line x1="988" y1="961.6" x2="1006" y2="961.6" stroke="#231f20" stroke-width="3"/>
<line x1="988" y1="996.4" x2="1006" y2="996.4" stroke="#231f20" stroke-width="3"/>
<line x1="1080" y1="1157.3" x2="1080" y2="1069" stroke="#231f20" stroke-width="3.2"/>
<line x1="1078.4" y1="1157.3" x2="1274.6" y2="1157.3" stroke="#231f20" stroke-width="3.2"/>
<polygon points="1080,1044 1090.5,1078 1080,1067.8 1069.5,1078" fill="#231f20"/>
<polygon points="1299.6,1157.3 1264.6,1167.8 1275.1,1157.3 1264.6,1146.8" fill="#231f20"/>
<path d="M1080,1157 Q1176,1000 1269,1151" fill="none" stroke="#d71f2a" stroke-width="5"/>
<text x="1014" y="1121.6" font-size="29" fill="#231f20" font-weight="bold"><tspan font-weight="normal">σ</tspan>(x)</text>
<text x="1177.3" y="1183" font-size="29" fill="#231f20" text-anchor="middle" font-weight="bold">x</text>
<text x="219.6" y="1282.3" font-size="33" fill="#231f20" font-weight="bold" textLength="222.4" lengthAdjust="spacingAndGlyphs">Moment Force</text>
<rect x="158.9" y="1435.9" width="340.1" height="76.8" fill="url(#lap)" stroke="#8d8d90" stroke-width="1.2"/>
<polygon points="315.2,1357.3 371.4,1367.1 363.4,1414.5 307.1,1406.4" fill="#e6e6e8" stroke="#222222" stroke-width="2"/>
<g transform="translate(328.1 1431.9) rotate(8.2)">
<rect x="-100.2" y="-21.2" width="200.4" height="42.4" fill="url(#wp)" stroke="#2e8fcf" stroke-width="1.5"/>
</g>
<text x="252.7" y="1437.7" font-size="26" fill="#231f20" font-weight="bold" textLength="140" lengthAdjust="spacingAndGlyphs">Workpiece</text>
<line x1="342" y1="1364" x2="334.8" y2="1445.7" stroke="#231f20" stroke-width="2" stroke-dasharray="6,4"/>
<circle cx="342" cy="1362" r="4.5" fill="#231f20"/>
<line x1="342.9" y1="1326" x2="342.9" y2="1349.5" stroke="#231f20" stroke-width="2.5"/>
<polygon points="342.9,1360 337.4,1345 348.4,1345" fill="#231f20"/>
<text x="353.6" y="1344" font-size="28" fill="#231f20" font-weight="bold"><tspan font-weight="normal">σ</tspan><tspan font-size="21.84" dy="5.6">o</tspan></text>
<text x="397.3" y="1393" font-size="29" fill="#231f20" font-weight="bold">d</text>
<path d="M392,1386.8 L385.7,1386.8 L341,1411.8" fill="none" stroke="#231f20" stroke-width="2"/>
<line x1="429.5" y1="1427" x2="473.6" y2="1427" stroke="#231f20" stroke-width="2.5"/>
<polygon points="484.8,1427 468.8,1432.5 468.8,1421.5" fill="#231f20"/>
<text x="489.3" y="1431.4" font-size="28" fill="#231f20" font-weight="bold">v<tspan font-size="21" dy="6">r</tspan></text>
<line x1="330.4" y1="1456.4" x2="283.24" y2="1448.97" stroke="#231f20" stroke-width="4.5"/>
<polygon points="262.5,1445.7 293.77,1440 290.5,1460.74" fill="#231f20"/>
<text x="323.2" y="1477.9" font-size="29" fill="#231f20" font-weight="bold"><tspan font-weight="normal">μ</tspan>P</text>
<text x="251.8" y="1493" font-size="26" fill="#2e2e30" font-weight="bold">Lap</text>
<text x="185.7" y="1402" font-size="29" fill="#231f20" font-weight="bold"><tspan font-weight="normal">Δ</tspan>H</text>
<path d="M178.6,1451 C158,1442 150,1412 175,1399" fill="none" stroke="#231f20" stroke-width="2.5"/>
<polygon points="184,1394.5 173.94,1405.68 169.02,1395.84" fill="#231f20"/>
<line x1="183" y1="1438.6" x2="183" y2="1465.4" stroke="#231f20" stroke-width="2.6"/>
<line x1="174" y1="1438.6" x2="192" y2="1438.6" stroke="#231f20" stroke-width="3"/>
<line x1="174" y1="1465.4" x2="192" y2="1465.4" stroke="#231f20" stroke-width="3"/>
<line x1="228.6" y1="1619" x2="228.6" y2="1530.7" stroke="#231f20" stroke-width="3.2"/>
<line x1="227" y1="1619" x2="423.2" y2="1619" stroke="#231f20" stroke-width="3.2"/>
<polygon points="228.6,1505.7 239.1,1539.7 228.6,1529.5 218.1,1539.7" fill="#231f20"/>
<polygon points="448.2,1619 413.2,1629.5 423.7,1619 413.2,1608.5" fill="#231f20"/>
<line x1="318.75" y1="1616.4" x2="434.8" y2="1525.4" stroke="#d71f2a" stroke-width="5"/>
<text x="163.4" y="1583.4" font-size="29" fill="#231f20" font-weight="bold"><tspan font-weight="normal">σ</tspan>(x)</text>
<text x="316" y="1643.2" font-size="29" fill="#231f20" text-anchor="middle" font-weight="bold">x</text>
<text x="557" y="1261" font-size="33" fill="#231f20" font-weight="bold" textLength="376.75" lengthAdjust="spacingAndGlyphs">Viscoelastic/Viscoplastic</text>
<text x="637.5" y="1300" font-size="33" fill="#231f20" font-weight="bold" textLength="215" lengthAdjust="spacingAndGlyphs">Lap Response</text>
<path d="M574.8,1435.9 L606,1435.9 C622,1448 634,1461 648,1465.4 L846.25,1439.5 L915,1439.5 L915,1512.7 L574.8,1512.7 Z" fill="url(#lap)" stroke="#8d8d90" stroke-width="1.2"/>
<g transform="translate(745.6 1431.9) rotate(-8.25)">
<rect x="-99.7" y="-21.15" width="199.4" height="42.3" fill="url(#wp)" stroke="#2e8fcf" stroke-width="1.5"/>
</g>
<text x="678.4" y="1441.25" font-size="26" fill="#231f20" font-weight="bold" textLength="140" lengthAdjust="spacingAndGlyphs">Workpiece</text>
<line x1="742.7" y1="1380.5" x2="742.7" y2="1406.5" stroke="#231f20" stroke-width="2.5"/>
<polygon points="742.7,1417 737.2,1402 748.2,1402" fill="#231f20"/>
<text x="729.3" y="1361.8" font-size="28" fill="#231f20" font-weight="bold"><tspan font-weight="normal">σ</tspan><tspan font-size="21.84" dy="5.6">o</tspan></text>
<line x1="842.7" y1="1404.6" x2="884.2" y2="1404.6" stroke="#231f20" stroke-width="2.5"/>
<polygon points="895.4,1404.6 879.4,1410.1 879.4,1399.1" fill="#231f20"/>
<text x="902.5" y="1408" font-size="28" fill="#231f20" font-weight="bold">v<tspan font-size="21" dy="6">r</tspan></text>
<text x="745.4" y="1487.7" font-size="26" fill="#2e2e30" text-anchor="middle" font-weight="bold">Lap</text>
<line x1="651.6" y1="1619.1" x2="651.6" y2="1530.7" stroke="#231f20" stroke-width="3.2"/>
<line x1="650" y1="1619.1" x2="846.25" y2="1619.1" stroke="#231f20" stroke-width="3.2"/>
<polygon points="651.6,1505.7 662.1,1539.7 651.6,1529.5 641.1,1539.7" fill="#231f20"/>
<polygon points="871.25,1619.1 836.25,1629.6 846.75,1619.1 836.25,1608.6" fill="#231f20"/>
<path d="M732.9,1620 Q822,1598 858.75,1530.7" fill="none" stroke="#d71f2a" stroke-width="5"/>
<text x="585.5" y="1583.4" font-size="29" fill="#231f20" font-weight="bold"><tspan font-weight="normal">σ</tspan>(x)</text>
<text x="739" y="1643.2" font-size="29" fill="#231f20" text-anchor="middle" font-weight="bold">x</text>
<text x="975.5" y="1279.6" font-size="33" fill="#231f20" font-weight="bold" textLength="367" lengthAdjust="spacingAndGlyphs">Workpiece/Lap Mismatch</text>
<rect x="986.25" y="1435.9" width="340.15" height="75.9" fill="url(#lap)" stroke="#8d8d90" stroke-width="1.2"/>
<text x="1146" y="1487.7" font-size="26" fill="#2e2e30" text-anchor="middle" font-weight="bold">Lap</text>
<path d="M1033.6,1399.3 Q1147,1352.4 1264.8,1400 L1247.9,1440.4 Q1147,1399.2 1050.5,1440.4 Z" fill="url(#wp)" stroke="#2e8fcf" stroke-width="1.6"/>
<text x="1145.2" y="1411" font-size="26" fill="#231f20" text-anchor="middle" font-weight="bold">Workpiece</text>
<line x1="1147" y1="1349.3" x2="1147" y2="1369.65" stroke="#231f20" stroke-width="2.5"/>
<polygon points="1147,1378.75 1142,1365.75 1152,1365.75" fill="#231f20"/>
<text x="1136.25" y="1336.8" font-size="28" fill="#231f20" font-weight="bold"><tspan font-weight="normal">σ</tspan><tspan font-size="21.84" dy="5.6">o</tspan></text>
<line x1="1147" y1="1424" x2="1147" y2="1432" stroke="#231f20" stroke-width="1.8"/>
<polygon points="1147,1420 1150.5,1426 1143.5,1426" fill="#231f20"/>
<polygon points="1147,1436 1143.5,1430 1150.5,1430" fill="#231f20"/>
<line x1="1244.3" y1="1377" x2="1159.83" y2="1427.13" stroke="#231f20" stroke-width="2"/>
<polygon points="1149.6,1433.2 1161.41,1419.79 1167.03,1429.25" fill="#231f20"/>
<text x="1240.7" y="1367" font-size="29" fill="#231f20" font-weight="bold" textLength="106" lengthAdjust="spacingAndGlyphs"><tspan font-weight="normal">Δ</tspan>h<tspan font-size="21" dy="6.38">oL</tspan><tspan dy="-6.38">(x)</tspan></text>
<line x1="1051.4" y1="1620.9" x2="1051.4" y2="1531.4" stroke="#231f20" stroke-width="3.2"/>
<line x1="1049.8" y1="1620.9" x2="1245.2" y2="1620.9" stroke="#231f20" stroke-width="3.2"/>
<polygon points="1051.4,1506.4 1061.9,1540.4 1051.4,1530.2 1040.9,1540.4" fill="#231f20"/>
<polygon points="1270.2,1620.9 1235.2,1631.4 1245.7,1620.9 1235.2,1610.4" fill="#231f20"/>
<path d="M1052.3,1538.75 Q1148.75,1693 1243.4,1537" fill="none" stroke="#d71f2a" stroke-width="5"/>
<text x="986.25" y="1585.2" font-size="29" fill="#231f20" font-weight="bold"><tspan font-weight="normal">σ</tspan>(x)</text>
<text x="1143.4" y="1645" font-size="29" fill="#231f20" text-anchor="middle" font-weight="bold">x</text>
<text x="139.5" y="1763.5" font-size="26" fill="#231f20" font-weight="bold" textLength="131" lengthAdjust="spacingAndGlyphs">15TIS/mfm</text>
<circle cx="297" cy="1756" r="2.6" fill="#231f20"/>
<text x="320" y="1763.5" font-size="26" fill="#231f20" font-weight="bold" textLength="276" lengthAdjust="spacingAndGlyphs">NIF-0911-22990s2r1L4</text>
<text x="4" y="1853" font-size="27" fill="#231f20" font-weight="bold" textLength="50" lengthAdjust="spacingAndGlyphs">15TI</text>
<rect x="1550" y="671" width="1243" height="718" fill="#231f20"/>
<rect x="1554.8" y="674.5" width="392.9" height="77.5" fill="#fdf8cc"/>
<rect x="1554.8" y="756" width="392.9" height="272" fill="#ffffff"/>
<rect x="1554.8" y="1060.5" width="392.9" height="49" fill="#fdf8cc"/>
<rect x="1554.8" y="1113.5" width="392.9" height="271.5" fill="#ffffff"/>
<rect x="1975" y="674.5" width="393.4" height="77.5" fill="#fdf8cc"/>
<rect x="1975" y="756" width="393.4" height="272" fill="#ffffff"/>
<rect x="1975" y="1060.5" width="393.4" height="49" fill="#fdf8cc"/>
<rect x="1975" y="1113.5" width="393.4" height="271.5" fill="#ffffff"/>
<rect x="2395.8" y="674.5" width="393.8" height="77.5" fill="#fdf8cc"/>
<rect x="2395.8" y="756" width="393.8" height="272" fill="#ffffff"/>
<rect x="2395.8" y="1060.5" width="393.8" height="49" fill="#fdf8cc"/>
<rect x="2395.8" y="1113.5" width="393.8" height="271.5" fill="#ffffff"/>
<text x="1616.4" y="727.9" font-size="33" fill="#231f20" font-weight="bold" textLength="271.6" lengthAdjust="spacingAndGlyphs">Workpiece Shape</text>
<text x="1739.6" y="798.4" font-size="28" fill="#231f20" font-weight="bold"><tspan font-weight="normal">σ</tspan><tspan font-size="21.84" dy="5.6">o</tspan></text>
<line x1="1754" y1="811.8" x2="1754" y2="834.2" stroke="#231f20" stroke-width="2.5"/>
<polygon points="1754,844 1748.5,830 1759.5,830" fill="#231f20"/>
<rect x="1584.3" y="892" width="339.3" height="75" fill="url(#lap)" stroke="#8d8d90" stroke-width="1.2"/>
<text x="1758.4" y="944" font-size="26" fill="#2e2e30" text-anchor="middle" font-weight="bold">Lap</text>
<path d="M1655.7,844.8 L1853,844.8 L1853,892 Q1754,854.8 1655.7,892 Z" fill="url(#wp)" stroke="#2e8fcf" stroke-width="1.5"/>
<text x="1759.3" y="868" font-size="26" fill="#231f20" text-anchor="middle" font-weight="bold">Workpiece</text>
<line x1="1753" y1="878.8" x2="1753" y2="887.2" stroke="#231f20" stroke-width="1.6"/>
<polygon points="1753,874 1756.5,880 1749.5,880" fill="#231f20"/>
<polygon points="1753,892 1749.5,886 1756.5,886" fill="#231f20"/>
<line x1="1777" y1="883.2" x2="1763.2" y2="883.2" stroke="#231f20" stroke-width="1.8"/>
<polygon points="1754.8,883.2 1766.8,878.7 1766.8,887.7" fill="#231f20"/>
<line x1="1777" y1="883.2" x2="1807.5" y2="983.2" stroke="#231f20" stroke-width="1.8"/>
<text x="1808.4" y="994.8" font-size="24" fill="#231f20" font-weight="bold" textLength="85.6" lengthAdjust="spacingAndGlyphs"><tspan font-weight="normal">Δ</tspan>h<tspan font-size="18" dy="5.28">oL</tspan><tspan dy="-5.28">(x)</tspan></text>
<text x="1996.4" y="726.6" font-size="33" fill="#231f20" font-weight="bold" textLength="349" lengthAdjust="spacingAndGlyphs">Pad Wear/Deformation</text>
<text x="2158.7" y="800.6" font-size="28" fill="#231f20" font-weight="bold"><tspan font-weight="normal">σ</tspan><tspan font-size="21.84" dy="5.6">o</tspan></text>
<line x1="2172" y1="815" x2="2172" y2="838" stroke="#231f20" stroke-width="2.5"/>
<polygon points="2172,847.8 2166.5,833.8 2177.5,833.8" fill="#231f20"/>
<path d="M2000,890.5 L2069,892.5 L2199,914 C2228,915 2252,906 2265.5,891 L2340,890.4 L2340,966.6 L2000,966.6 Z" fill="url(#lap)" stroke="#8d8d90" stroke-width="1.2"/>
<text x="2168" y="944.8" font-size="26" fill="#2e2e30" text-anchor="middle" font-weight="bold">Lap</text>
<rect x="2069" y="848.6" width="196.9" height="42.9" fill="url(#wp)"/>
<line x1="2069" y1="849.4" x2="2265.9" y2="849.4" stroke="#2e8fcf" stroke-width="1.8"/>
<line x1="2069.6" y1="848.6" x2="2069.6" y2="891.5" stroke="#2e8fcf" stroke-width="1.2"/>
<line x1="2265.3" y1="848.6" x2="2265.3" y2="891.5" stroke="#2e8fcf" stroke-width="1.2"/>
<line x1="2069" y1="890.9" x2="2265.9" y2="890.9" stroke="#2e8fcf" stroke-width="1.2"/>
<text x="2168.4" y="880.6" font-size="26" fill="#231f20" text-anchor="middle" font-weight="bold">Workpiece</text>
<line x1="2206.7" y1="896.8" x2="2206.7" y2="909.2" stroke="#231f20" stroke-width="1.6"/>
<polygon points="2206.7,892 2210.2,898 2203.2,898" fill="#231f20"/>
<polygon points="2206.7,914 2203.2,908 2210.2,908" fill="#231f20"/>
<path d="M2220.5,901 L2233.9,901 L2252,982.3" fill="none" stroke="#231f20" stroke-width="1.8"/>
<text x="2253.3" y="996.9" font-size="24" fill="#231f20" font-weight="bold" textLength="86" lengthAdjust="spacingAndGlyphs"><tspan font-weight="normal">Δ</tspan>h<tspan font-size="18" dy="5.28">oL</tspan><tspan dy="-5.28">(x)</tspan></text>
<text x="2440.6" y="704.8" font-size="33" fill="#231f20" font-weight="bold" textLength="303" lengthAdjust="spacingAndGlyphs">Workpiece Bending</text>
<text x="2494" y="744.8" font-size="33" fill="#231f20" font-weight="bold" textLength="197.4" lengthAdjust="spacingAndGlyphs">(Mechanical)</text>
<text x="2576.3" y="822.4" font-size="28" fill="#231f20" font-weight="bold"><tspan font-weight="normal">σ</tspan><tspan font-size="21.84" dy="5.6">o</tspan></text>
<line x1="2588.4" y1="833.3" x2="2588.4" y2="862.8" stroke="#231f20" stroke-width="2.5"/>
<polygon points="2588.4,873.3 2582.9,858.3 2593.9,858.3" fill="#231f20"/>
<rect x="2419.5" y="915.7" width="340.5" height="75.1" fill="url(#lap)" stroke="#8d8d90" stroke-width="1.2"/>
<text x="2588.4" y="966.6" font-size="26" fill="#2e2e30" text-anchor="middle" font-weight="bold">Lap</text>
<path d="M2501.2,853.9 Q2588,892.7 2675.7,853.9 L2690.2,891.5 Q2588,933 2484.2,889 Z" fill="url(#wp)"/>
<path d="M2690.2,891.5 Q2588,933 2484.2,889" fill="none" stroke="#2e8fcf" stroke-width="1.5"/>
<polyline points="2501.2,853.9 2504.07,852.98 2505.1,856.26 2508.17,854.73 2509.24,857.98 2512.27,856.38 2513.39,859.61 2516.37,857.95 2517.54,861.15 2520.47,859.44 2521.69,862.61 2524.57,860.83 2525.84,863.97 2528.68,862.14 2529.99,865.25 2532.78,863.36 2534.14,866.44 2536.88,864.49 2538.29,867.55 2540.99,865.54 2542.45,868.56 2545.09,866.5 2546.6,869.49 2549.2,867.37 2550.76,870.33 2553.3,868.15 2554.92,871.08 2557.41,868.85 2559.08,871.74 2561.51,869.46 2563.24,872.31 2565.62,869.98 2567.4,872.8 2569.73,870.42 2571.56,873.19 2573.84,870.77 2575.73,873.5 2577.95,871.03 2579.89,873.72 2582.06,871.2 2584.06,873.86 2586.17,871.29 2588.22,873.9 2590.28,871.29 2592.39,873.86 2594.39,871.2 2596.56,873.72 2598.51,871.03 2600.73,873.5 2602.63,870.77 2604.9,873.19 2606.74,870.42 2609.07,872.8 2610.86,869.98 2613.25,872.31 2614.98,869.46 2617.42,871.74 2619.1,868.85 2621.6,871.08 2623.22,868.15 2625.77,870.33 2627.35,867.37 2629.95,869.49 2631.47,866.5 2634.12,868.56 2635.6,865.54 2638.3,867.55 2639.73,864.49 2642.48,866.44 2643.86,863.36 2646.66,865.25 2647.99,862.14 2650.84,863.97 2652.12,860.83 2655.02,862.61 2656.26,859.43 2659.21,861.15 2660.4,857.95 2663.39,859.61 2664.54,856.38 2667.57,857.98 2668.68,854.72 2671.76,856.26 2672.82,852.98 2675.7,853.9" fill="none" stroke="#2e8fcf" stroke-width="1.8"/>
<text x="2589.6" y="897.5" font-size="23" fill="#231f20" text-anchor="middle" font-weight="bold" textLength="121" lengthAdjust="spacingAndGlyphs">Workpiece</text>
<line x1="2690.2" y1="896.8" x2="2690.2" y2="910.2" stroke="#231f20" stroke-width="1.6"/>
<polygon points="2690.2,892 2693.7,898 2686.7,898" fill="#231f20"/>
<polygon points="2690.2,915 2686.7,909 2693.7,909" fill="#231f20"/>
<text x="2696.3" y="902.4" font-size="24" fill="#231f20" font-weight="bold" textLength="87" lengthAdjust="spacingAndGlyphs"><tspan font-weight="normal">Δ</tspan>h<tspan font-size="18" dy="5.28">oL</tspan><tspan dy="-5.28">(x)</tspan></text>
<text x="1563.75" y="1096.6" font-size="33" fill="#231f20" font-weight="bold" textLength="373" lengthAdjust="spacingAndGlyphs">Residual Grinding Stress</text>
<text x="1733.6" y="1167.2" font-size="28" fill="#231f20" font-weight="bold"><tspan font-weight="normal">σ</tspan><tspan font-size="21.84" dy="5.6">o</tspan></text>
<line x1="1745.8" y1="1176" x2="1745.8" y2="1202" stroke="#231f20" stroke-width="2.5"/>
<polygon points="1745.8,1211.8 1740.3,1197.8 1751.3,1197.8" fill="#231f20"/>
<text x="1820.6" y="1150.4" font-size="28" fill="#231f20" font-weight="bold" textLength="106" lengthAdjust="spacingAndGlyphs">Ground</text>
<text x="1821.7" y="1180.5" font-size="28" fill="#231f20" font-weight="bold" textLength="105" lengthAdjust="spacingAndGlyphs">surface</text>
<line x1="1877.5" y1="1183.9" x2="1855.82" y2="1222.05" stroke="#231f20" stroke-width="2.2"/>
<polygon points="1849.6,1233 1852.84,1214.14 1864.14,1220.56" fill="#231f20"/>
<rect x="1577" y="1272" width="340.7" height="77" fill="url(#lap)" stroke="#8d8d90" stroke-width="1.2"/>
<text x="1749.2" y="1323.4" font-size="26" fill="#2e2e30" text-anchor="middle" font-weight="bold">Lap</text>
<path d="M1641,1235.2 Q1745.8,1190.8 1848.5,1235.2 L1832.9,1271 Q1745.8,1233 1658.8,1271 Z" fill="url(#wp)"/>
<path d="M1832.9,1271 Q1745.8,1233 1658.8,1271" fill="none" stroke="#2e8fcf" stroke-width="1.5"/>
<polyline points="1641,1235.2 1642.73,1232.31 1646.21,1233.69 1647.75,1230.28 1651.19,1231.73 1652.77,1228.36 1656.17,1229.87 1657.79,1226.53 1661.14,1228.12 1662.8,1224.81 1666.11,1226.46 1667.81,1223.19 1671.07,1224.9 1672.82,1221.66 1676.04,1223.44 1677.83,1220.25 1681,1222.09 1682.84,1218.93 1685.96,1220.83 1687.85,1217.71 1690.92,1219.68 1692.85,1216.59 1695.87,1218.62 1697.85,1215.58 1700.82,1217.67 1702.85,1214.67 1705.77,1216.81 1707.85,1213.85 1710.72,1216.06 1712.85,1213.14 1715.66,1215.41 1717.84,1212.54 1720.6,1214.86 1722.84,1212.03 1725.54,1214.4 1727.83,1211.62 1730.48,1214.05 1732.81,1211.32 1735.41,1213.8 1737.8,1211.11 1740.35,1213.65 1742.78,1211.01 1745.28,1213.6 1747.77,1211.01 1750.2,1213.65 1752.74,1211.11 1755.13,1213.8 1757.72,1211.32 1760.05,1214.05 1762.69,1211.62 1764.97,1214.4 1767.67,1212.03 1769.89,1214.86 1772.63,1212.54 1774.8,1215.41 1777.6,1213.14 1779.71,1216.06 1782.56,1213.85 1784.63,1216.81 1787.53,1214.67 1789.53,1217.67 1792.48,1215.58 1794.44,1218.62 1797.44,1216.59 1799.34,1219.68 1802.39,1217.71 1804.25,1220.83 1807.34,1218.93 1809.15,1222.09 1812.29,1220.25 1814.04,1223.44 1817.23,1221.67 1818.94,1224.9 1822.17,1223.19 1823.83,1226.46 1827.11,1224.81 1828.72,1228.11 1832.05,1226.53 1833.61,1229.87 1836.98,1228.36 1838.5,1231.73 1841.91,1230.29 1843.38,1233.69 1846.83,1232.31 1848.5,1235.2" fill="none" stroke="#2e8fcf" stroke-width="1.8"/>
<text x="1747" y="1244" font-size="26" fill="#231f20" text-anchor="middle" font-weight="bold">Workpiece</text>
<line x1="1745.8" y1="1257.8" x2="1745.8" y2="1267.2" stroke="#231f20" stroke-width="1.6"/>
<polygon points="1745.8,1253 1749.3,1259 1742.3,1259" fill="#231f20"/>
<polygon points="1745.8,1272 1742.3,1266 1749.3,1266" fill="#231f20"/>
<line x1="1779.3" y1="1262" x2="1762.1" y2="1262" stroke="#231f20" stroke-width="1.8"/>
<polygon points="1753.7,1262 1765.7,1257.5 1765.7,1266.5" fill="#231f20"/>
<line x1="1779.3" y1="1262" x2="1808.3" y2="1361.3" stroke="#231f20" stroke-width="1.8"/>
<text x="1810.6" y="1369" font-size="24" fill="#231f20" font-weight="bold" textLength="82.4" lengthAdjust="spacingAndGlyphs"><tspan font-weight="normal">Δ</tspan>h<tspan font-size="18" dy="5.28">oL</tspan><tspan dy="-5.28">(x)</tspan></text>
<text x="2073.8" y="1096.9" font-size="33" fill="#231f20" font-weight="bold" textLength="196.4" lengthAdjust="spacingAndGlyphs">Temperature</text>
<line x1="2274.2" y1="1171.6" x2="2274.2" y2="1135" stroke="#231f20" stroke-width="3"/>
<line x1="2275.7" y1="1171.6" x2="2075" y2="1171.6" stroke="#231f20" stroke-width="3"/>
<polygon points="2274.2,1114.7 2283.7,1144.7 2274.2,1135.7 2264.7,1144.7" fill="#231f20"/>
<polygon points="2053.7,1171.6 2085.7,1161.6 2076.1,1171.6 2085.7,1181.6" fill="#231f20"/>
<text x="2288" y="1159.4" font-size="29" fill="#231f20" font-weight="bold">T</text>
<path d="M2107.3,1168.3 C2190,1164 2250,1156 2263.5,1138.2" fill="none" stroke="#d71f2a" stroke-width="2.6"/>
<text x="2164.2" y="1196.2" font-size="28" fill="#231f20" font-weight="bold"><tspan font-weight="normal">σ</tspan><tspan font-size="21.84" dy="5.6">o</tspan></text>
<line x1="2174.2" y1="1199.5" x2="2174.2" y2="1216.8" stroke="#231f20" stroke-width="2.5"/>
<polygon points="2174.2,1225.2 2169.2,1213.2 2179.2,1213.2" fill="#231f20"/>
<path d="M2072.7,1225.2 Q2180,1232 2268,1204 L2272.4,1247.5 Q2170,1282 2073.8,1265.4 Z" fill="url(#wp)" stroke="#2e8fcf" stroke-width="1.5"/>
<text x="2169.8" y="1253" font-size="26" fill="#231f20" text-anchor="middle" font-weight="bold">Workpiece</text>
<line x1="2275.8" y1="1213" x2="2305.5" y2="1213" stroke="#231f20" stroke-width="2.2"/>
<polygon points="2316,1213 2301,1218.5 2301,1207.5" fill="#231f20"/>
<text x="2319.3" y="1218.5" font-size="28" fill="#231f20" font-weight="bold">v<tspan font-size="21" dy="6">r</tspan></text>
<text x="2280.2" y="1254.2" font-size="24" fill="#231f20" font-weight="bold" textLength="82.6" lengthAdjust="spacingAndGlyphs"><tspan font-weight="normal">Δ</tspan>h<tspan font-size="18" dy="5.28">oL</tspan><tspan dy="-5.28">(x)</tspan></text>
<line x1="2273.5" y1="1252.8" x2="2273.5" y2="1268.2" stroke="#231f20" stroke-width="1.6"/>
<polygon points="2273.5,1248 2277,1254 2270,1254" fill="#231f20"/>
<polygon points="2273.5,1273 2270,1267 2277,1267" fill="#231f20"/>
<rect x="2004.6" y="1271" width="339.7" height="75.8" fill="url(#lap)" stroke="#8d8d90" stroke-width="1.2"/>
<text x="2169.8" y="1321" font-size="26" fill="#2e2e30" text-anchor="middle" font-weight="bold">Lap</text>
<text x="2466" y="1096.9" font-size="33" fill="#231f20" font-weight="bold" textLength="253" lengthAdjust="spacingAndGlyphs">Global Pad Prop</text>
<text x="2657.8" y="1153.8" font-size="24" fill="#231f20" font-weight="bold">Pad</text>
<text x="2656.7" y="1183.9" font-size="24" fill="#231f20" font-weight="bold" textLength="120.5" lengthAdjust="spacingAndGlyphs">shrinkage</text>
<line x1="2714.7" y1="1189.5" x2="2714.7" y2="1260.5" stroke="#231f20" stroke-width="2.2"/>
<polygon points="2714.7,1271 2709.2,1256 2720.2,1256" fill="#231f20"/>
<path d="M2419.7,1271 Q2590,1295 2760,1271 L2760,1346.8 L2419.7,1346.8 Z" fill="url(#lap)" stroke="#8d8d90" stroke-width="1.2"/>
<rect x="2484.9" y="1228.5" width="197.5" height="42.5" fill="url(#wp)"/>
<line x1="2484.9" y1="1229.3" x2="2682.4" y2="1229.3" stroke="#2e8fcf" stroke-width="1.8"/>
<line x1="2485.5" y1="1228.5" x2="2485.5" y2="1271" stroke="#2e8fcf" stroke-width="1.2"/>
<line x1="2681.8" y1="1228.5" x2="2681.8" y2="1271" stroke="#2e8fcf" stroke-width="1.2"/>
<line x1="2484.9" y1="1270.4" x2="2682.4" y2="1270.4" stroke="#2e8fcf" stroke-width="1.2"/>
<text x="2585.3" y="1260.9" font-size="26" fill="#231f20" text-anchor="middle" font-weight="bold">Workpiece</text>
<text x="2588.7" y="1323.4" font-size="26" fill="#2e2e30" text-anchor="middle" font-weight="bold">Lap</text>
<rect x="1549" y="1461" width="825" height="332" fill="#231f20"/>
<rect x="1553" y="1465" width="394" height="78" fill="#fdf8cc"/>
<rect x="1553" y="1547" width="394" height="140" fill="url(#optsurf)"/>
<rect x="1553" y="1687" width="394" height="6.7" fill="#ffffff"/>
<rect x="1553" y="1693.7" width="394" height="95.3" fill="url(#lap)"/>
<line x1="1553" y1="1687" x2="1947" y2="1687" stroke="#8c8c90" stroke-width="1.6"/>
<line x1="1553" y1="1693.7" x2="1947" y2="1693.7" stroke="#8c8c90" stroke-width="1.4"/>
<path d="M1765,1693 A46.2,44 0 0 0 1857.4,1693 Z" fill="#ffffff"/>
<path d="M1765,1693.7 A46.2,44 0 0 0 1857.4,1693.7" fill="none" stroke="#77777a" stroke-width="1.3"/>
<rect x="1977" y="1465" width="393" height="78" fill="#fdf8cc"/>
<rect x="1977" y="1547" width="393" height="140" fill="url(#optsurf)"/>
<rect x="1977" y="1687" width="393" height="6.7" fill="#ffffff"/>
<rect x="1977" y="1693.7" width="393" height="95.3" fill="url(#lap)"/>
<line x1="1977" y1="1687" x2="2370" y2="1687" stroke="#8c8c90" stroke-width="1.6"/>
<line x1="1977" y1="1693.7" x2="2370" y2="1693.7" stroke="#8c8c90" stroke-width="1.4"/>
<path d="M2190,1693 A45.6,44 0 0 0 2281.2,1693 Z" fill="#ffffff"/>
<path d="M2190,1693.7 A45.6,44 0 0 0 2281.2,1693.7" fill="none" stroke="#77777a" stroke-width="1.3"/>
<text x="1644" y="1495.7" font-size="33" fill="#231f20" font-weight="bold" textLength="210" lengthAdjust="spacingAndGlyphs">Slurry Spatial</text>
<text x="1658.3" y="1536.4" font-size="33" fill="#231f20" font-weight="bold" textLength="181.5" lengthAdjust="spacingAndGlyphs">Distribution</text>
<text x="1622" y="1584.8" font-size="25" fill="#231f20" font-weight="bold" textLength="252" lengthAdjust="spacingAndGlyphs">Workpiece Surface</text>
<text x="1650.6" y="1679.4" font-size="21" fill="#231f20" font-weight="bold" textLength="63.8" lengthAdjust="spacingAndGlyphs">Slurry</text>
<text x="1859.6" y="1679.4" font-size="21" fill="#231f20" font-weight="bold" textLength="63.8" lengthAdjust="spacingAndGlyphs">Slurry</text>
<ellipse cx="1679.2" cy="1691.5" rx="27" ry="4.2" fill="#4679c2"/>
<ellipse cx="1891.5" cy="1691.5" rx="27" ry="4.2" fill="#4679c2"/>
<text x="1781.5" y="1720.1" font-size="26" fill="#231f20" font-weight="bold" textLength="60.5" lengthAdjust="spacingAndGlyphs">Pore</text>
<text x="1749.6" y="1762" font-size="26" fill="#2e2e30" text-anchor="middle" font-weight="bold">Lap</text>
<text x="2047" y="1495.7" font-size="33" fill="#231f20" font-weight="bold" textLength="244" lengthAdjust="spacingAndGlyphs">Local Nonlinear</text>
<text x="2043.6" y="1536.4" font-size="33" fill="#231f20" font-weight="bold" textLength="259.6" lengthAdjust="spacingAndGlyphs">Materal Deposits</text>
<text x="2047" y="1584.8" font-size="25" fill="#231f20" font-weight="bold" textLength="250.7" lengthAdjust="spacingAndGlyphs">Workpiece Surface</text>
<text x="1995.2" y="1658.5" font-size="21" fill="#111111" font-weight="bold" textLength="248.6" lengthAdjust="spacingAndGlyphs">Slurry &amp; Glass Product</text>
<ellipse cx="2109.6" cy="1692.7" rx="45" ry="25" fill="#ffffff" stroke="#77777a" stroke-width="1.3"/>
<polygon points="2151.33,1692.7 2150.64,1695.72 2149.52,1698.69 2147.87,1701.61 2145.1,1704.27 2141.11,1706.43 2138.23,1709.12 2132.71,1710.24 2128.91,1712.66 2123.12,1713.07 2118.13,1714.7 2112.44,1714.96 2106.76,1714.96 2101.69,1713.09 2095.57,1713.85 2090.67,1712.28 2085.68,1710.85 2083.38,1707.74 2077.4,1706.74 2075,1703.97 2071.83,1701.49 2069.33,1698.74 2068.71,1695.71 2068.69,1692.7 2068.11,1689.65 2069.59,1686.69 2071.31,1683.79 2076.35,1681.87 2077.14,1678.55 2082.43,1677.12 2085.69,1674.55 2090.92,1673.39 2095.69,1671.73 2101.1,1670.8 2106.74,1670.28 2112.41,1670.67 2118.03,1670.97 2123.12,1672.32 2128.8,1672.85 2132.54,1675.29 2138.01,1676.41 2141.3,1678.88 2144.92,1681.2 2145.7,1684.3 2149.85,1686.66 2149.06,1689.79" fill="#4679c2" stroke="#4679c2" stroke-width="0.8" stroke-linejoin="round"/>
<circle cx="2079.6" cy="1678.7" r="1.8" fill="#ffffff"/>
<circle cx="2101.6" cy="1671.7" r="1.8" fill="#ffffff"/>
<circle cx="2127.6" cy="1673.7" r="1.8" fill="#ffffff"/>
<circle cx="2145.6" cy="1683.7" r="1.8" fill="#ffffff"/>
<circle cx="2147.6" cy="1702.7" r="1.8" fill="#ffffff"/>
<circle cx="2121.6" cy="1713.7" r="1.8" fill="#ffffff"/>
<circle cx="2089.6" cy="1711.7" r="1.8" fill="#ffffff"/>
<circle cx="2070.6" cy="1698.7" r="1.8" fill="#ffffff"/>
<circle cx="2135.6" cy="1708.7" r="1.8" fill="#ffffff"/>
<circle cx="2073.6" cy="1687.7" r="1.8" fill="#ffffff"/>
<text x="2205.3" y="1720.1" font-size="26" fill="#231f20" font-weight="bold" textLength="60" lengthAdjust="spacingAndGlyphs">Pore</text>
<text x="2283.4" y="1679.4" font-size="21" fill="#231f20" font-weight="bold" textLength="65" lengthAdjust="spacingAndGlyphs">Slurry</text>
<ellipse cx="2315.3" cy="1691.5" rx="27" ry="4.2" fill="#4679c2"/>
<text x="2174.5" y="1762" font-size="26" fill="#2e2e30" text-anchor="middle" font-weight="bold">Lap</text>
</svg></body></html>
